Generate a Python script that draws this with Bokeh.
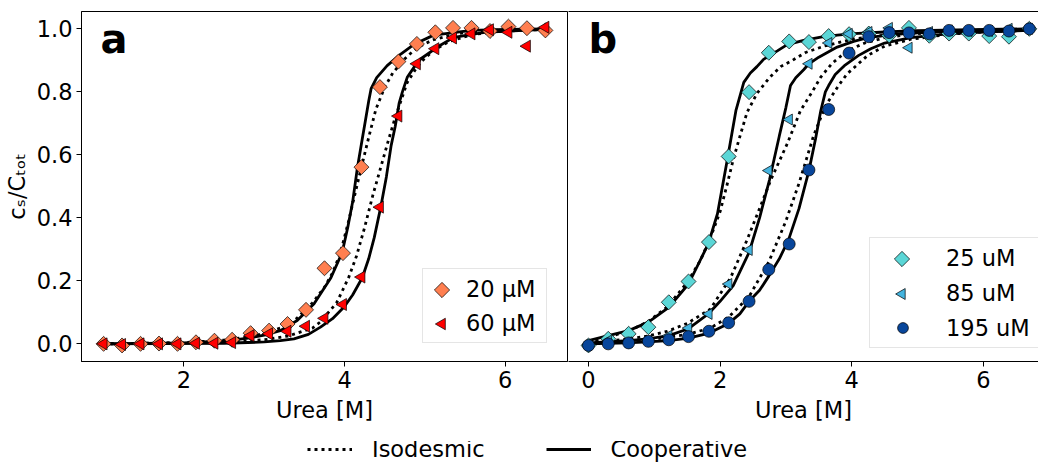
import math

from bokeh.embed import file_html
from bokeh.layouts import column, row
from bokeh.models import (ColumnDataSource, FixedTicker, Label, Legend, LegendItem,
                          LinearAxis, NumeralTickFormatter, Range1d)
from bokeh.plotting import figure
from bokeh.resources import INLINE

FONT = "DejaVu Sans"
FS = "22.5px"
NAN = float("nan")

# ---------------------------------------------------------------- panel a data
urea_a = [1.00, 1.23, 1.46, 1.69, 1.92, 2.15, 2.38, 2.60, 2.83, 3.06, 3.29, 3.52, 3.75,
          3.98, 4.21, 4.44, 4.67, 4.90, 5.13, 5.35, 5.58, 5.81, 6.04, 6.27, 6.50]
frac_20uM = [0.000, -0.005, 0.000, 0.001, 0.000, 0.005, 0.010, 0.013, 0.034, 0.042, 0.063,
             0.108, 0.240, 0.288, 0.561, 0.815, 0.896, 0.952, 0.989, 1.003, 1.003, 0.993,
             1.007, 1.002, 0.995]
frac_60uM = [0.000, -0.002, 0.000, 0.000, 0.000, 0.002, 0.002, 0.004, 0.026, 0.032, 0.040,
             0.056, 0.081, 0.125, 0.212, 0.434, 0.723, 0.889, 0.937, 0.971, 0.984, 0.997,
             0.989, 0.945, 1.005]

# fitted curves, panel a
coop_20_x = [1.0, 2.0, 2.5, 2.8, 3.0, 3.2, 3.41, 3.62, 3.83, 3.97, 4.04, 4.10, 4.16, 4.22,
             4.26, 4.30, 4.33, 4.40, 4.53, 4.70, 4.86, 5.11, 5.58, 6.0, 6.5]
coop_20_y = [0.0, 0.003, 0.009, 0.018, 0.028, 0.042, 0.074, 0.127, 0.21, 0.29, 0.37, 0.45,
             0.56, 0.65, 0.71, 0.77, 0.81, 0.845, 0.883, 0.92, 0.95, 0.98, 0.995, 0.998, 1.0]
iso_20_x = [1.0, 2.0, 2.5, 2.8, 3.0, 3.2, 3.4, 3.6, 3.75, 3.85, 3.95, 4.05, 4.18, 4.30, 4.39,
            4.50, 4.60, 4.75, 4.90, 5.10, 5.40, 5.80, 6.5]
iso_20_y = [0.0, 0.004, 0.012, 0.022, 0.033, 0.05, 0.08, 0.13, 0.18, 0.225, 0.29, 0.39, 0.53,
            0.655, 0.745, 0.815, 0.86, 0.905, 0.94, 0.965, 0.985, 0.995, 1.0]
coop_60_x = [1.0, 2.5, 3.0, 3.2, 3.37, 3.55, 3.7, 3.85, 3.99, 4.1, 4.22, 4.3, 4.37, 4.45,
             4.52, 4.58, 4.63, 4.68, 4.72, 4.78, 4.87, 4.95, 5.16, 5.36, 5.78, 6.5]
coop_60_y = [0.0, 0.002, 0.006, 0.01, 0.016, 0.03, 0.053, 0.08, 0.116, 0.155, 0.21, 0.27,
             0.338, 0.434, 0.53, 0.63, 0.69, 0.765, 0.80, 0.846, 0.88, 0.905, 0.943, 0.973,
             0.99, 0.998]
iso_60_x = [1.0, 2.5, 3.0, 3.3, 3.6, 3.7, 3.9, 4.05, 4.15, 4.25, 4.35, 4.45, 4.55, 4.62,
            4.70, 4.78, 4.88, 4.95, 5.1, 5.3, 5.6, 6.0, 6.5]
iso_60_y = [0.0, 0.005, 0.013, 0.025, 0.05, 0.07, 0.13, 0.21, 0.28, 0.37, 0.47, 0.56, 0.65,
            0.71, 0.77, 0.83, 0.87, 0.895, 0.93, 0.96, 0.982, 0.993, 0.998]

# ---------------------------------------------------------------- panel b data
urea_b = [0.00, 0.30, 0.61, 0.91, 1.22, 1.52, 1.83, 2.13, 2.44, 2.74, 3.05, 3.35, 3.65,
          3.96, 4.26, 4.57, 4.87, 5.18, 5.48, 5.78, 6.09, 6.39, 6.70]
frac_25uM = [-0.005, 0.016, 0.032, 0.053, 0.132, 0.198, 0.323, 0.595, 0.799, 0.924, 0.960,
             0.958, 0.977, 0.983, 0.985, 0.979, 1.003, 0.978, 0.985, 0.985, 0.977, 0.975,
             1.000]
frac_85uM = [-0.003, 0.010, 0.005, 0.010, 0.026, 0.050, 0.095, 0.190, 0.298, 0.550, 0.712,
             0.889, 0.955, 0.984, 0.990, 1.003, 0.940, 0.990, 0.995, 0.993, 0.993, 1.000,
             1.000]
frac_195uM = [-0.005, 0.000, 0.003, 0.008, 0.013, 0.023, 0.040, 0.067, 0.135, 0.236, 0.317,
              0.552, 0.744, 0.923, 0.975, 0.988, 0.987, 0.984, 0.995, 0.995, 0.995, 0.993,
              1.000]

# fitted curves, panel b
coop_25_x = [0.0, 0.30, 0.61, 0.91, 1.22, 1.52, 1.82, 1.96, 2.11, 2.24, 2.36, 2.46, 2.56,
             2.66, 2.87, 3.02, 3.27, 3.53, 3.78, 4.03, 4.5, 5.0, 5.8, 6.7]
coop_25_y = [0.01, 0.026, 0.042, 0.069, 0.116, 0.19, 0.317, 0.413, 0.585, 0.74, 0.83, 0.86,
             0.88, 0.903, 0.93, 0.95, 0.963, 0.974, 0.98, 0.985, 0.99, 0.994, 0.997, 1.0]
iso_25_x = [0.0, 0.3, 0.6, 0.9, 1.2, 1.5, 1.7, 1.85, 2.0, 2.1, 2.2, 2.31, 2.41, 2.56, 2.75,
            2.92, 3.1, 3.3, 3.58, 4.03, 4.5, 5.0, 5.5, 6.0, 6.7]
iso_25_y = [0.008, 0.022, 0.04, 0.07, 0.118, 0.195, 0.265, 0.335, 0.42, 0.5, 0.585, 0.665,
            0.735, 0.795, 0.845, 0.88, 0.9, 0.925, 0.945, 0.968, 0.98, 0.988, 0.993, 0.996,
            0.998]
coop_85_x = [0.0, 0.6, 0.9, 1.22, 1.52, 1.82, 2.0, 2.2, 2.44, 2.6, 2.75, 2.9, 3.0, 3.07,
             3.15, 3.27, 3.35, 3.5, 3.78, 4.03, 4.29, 4.79, 5.5, 6.7]
coop_85_y = [0.003, 0.01, 0.016, 0.026, 0.048, 0.095, 0.135, 0.185, 0.29, 0.4, 0.52, 0.66,
             0.75, 0.82, 0.845, 0.87, 0.889, 0.91, 0.942, 0.96, 0.974, 0.985, 0.993, 0.999]
iso_85_x = [0.0, 0.6, 0.9, 1.2, 1.5, 1.85, 2.16, 2.41, 2.61, 2.77, 3.02, 3.22, 3.4, 3.53,
            3.7, 3.93, 4.2, 4.5, 5.0, 5.5, 6.7]
iso_85_y = [0.005, 0.015, 0.025, 0.04, 0.065, 0.11, 0.21, 0.33, 0.435, 0.52, 0.635, 0.74,
            0.8, 0.847, 0.89, 0.93, 0.955, 0.972, 0.985, 0.992, 0.998]
coop_195_x = [0.0, 0.6, 0.9, 1.22, 1.52, 1.82, 2.13, 2.3, 2.44, 2.6, 2.74, 2.9, 3.04, 3.2,
              3.35, 3.45, 3.53, 3.6, 3.65, 3.75, 3.9, 4.1, 4.29, 4.5, 4.9, 5.5, 6.0, 6.7]
coop_195_y = [0.0, 0.003, 0.006, 0.01, 0.018, 0.033, 0.065, 0.095, 0.135, 0.17, 0.215, 0.27,
              0.33, 0.43, 0.55, 0.65, 0.74, 0.8, 0.82, 0.855, 0.885, 0.915, 0.937, 0.955,
              0.972, 0.985, 0.99, 0.995]
iso_195_x = [0.0, 0.9, 1.5, 1.85, 2.13, 2.44, 2.74, 3.0, 3.2, 3.42, 3.6, 3.8, 3.93, 4.24,
             4.5, 4.9, 5.5, 6.0, 6.7]
iso_195_y = [0.003, 0.012, 0.03, 0.05, 0.085, 0.15, 0.26, 0.39, 0.51, 0.66, 0.755, 0.82,
             0.857, 0.915, 0.945, 0.967, 0.983, 0.99, 0.995]

y_ticks = [0.0, 0.2, 0.4, 0.6, 0.8, 1.0]
x_ticks_a = [2, 4, 6]
x_ticks_b = [0, 2, 4, 6]

C20, C60 = "#FF7F50", "#FF0000"
C25, C85, C195 = "#5BD6D6", "#44B4DF", "#08469B"

LW = 2.8
DOT = "3 4"
Y_RANGE = (-0.056, 1.055)
FRAME_H = 350
PANEL_H = 441          # 11 top border + 350 frame + 80 bottom border
DIAMOND = dict(marker="square", angle=math.pi / 4, line_color="black", line_width=0.7)
LEFT_TRI = dict(marker="triangle", angle=math.pi / 2, line_color="black", line_width=0.7)
DOTS = dict(marker="circle", line_color="black", line_width=0.7)


def base_fig(width, x_range, left, right):
    p = figure(width=width, height=PANEL_H, x_range=Range1d(*x_range),
               y_range=Range1d(*Y_RANGE), output_backend="svg", toolbar_location=None,
               min_border_left=left, min_border_right=right,
               min_border_top=11, min_border_bottom=80)
    p.grid.visible = False
    p.background_fill_color = "white"
    p.border_fill_color = "white"
    for ax in p.xaxis:
        ax.major_label_text_font = FONT
        ax.major_label_text_font_size = FS
        ax.major_label_text_color = "black"
        ax.major_tick_out = 5
        ax.major_tick_in = 0
        ax.minor_tick_out = 0
        ax.minor_tick_in = 0
        ax.major_label_standoff = 4
        ax.axis_line_color = "black"
        ax.major_tick_line_color = "black"
        ax.axis_label = "Urea [M]"
        ax.axis_label_text_font = FONT
        ax.axis_label_text_font_size = FS
        ax.axis_label_text_font_style = "normal"
        ax.axis_label_text_color = "black"
        ax.axis_label_standoff = 6
    return p


def add_curves(p, pairs):
    for (xs, ys), dash in pairs:
        p.line(xs, ys, line_color="black", line_width=LW,
               line_dash=dash if dash else "solid", line_cap="butt")


def add_text(p, text, x, y, size=FS, style="normal", align="left"):
    p.add_layout(Label(x=x, y=y, x_units="screen", y_units="screen", text=text,
                       text_font=FONT, text_font_size=size, text_font_style=style,
                       text_align=align, text_baseline="alphabetic", text_color="black"))


def boxed_legend(p, labels, glyph_renderers, loc, glyph_w, standoff, label_w, spacing):
    return Legend(items=[LegendItem(label=t, renderers=[r])
                         for t, r in zip(labels, glyph_renderers)],
                  location=loc, padding=6, spacing=spacing, margin=0,
                  glyph_width=glyph_w, glyph_height=27, label_height=27,
                  label_standoff=standoff, label_width=label_w,
                  label_text_font=FONT, label_text_font_size=FS, label_text_color="black",
                  border_line_color="#cccccc", border_line_width=1,
                  background_fill_alpha=0)


def key_positions(p, frame_w, loc, glyph_w, spacing, n):
    """Centres (in data units) of the swatch slots of a boxed legend, top row first."""
    xr, yr = p.x_range, p.y_range
    sx = loc[0] + 6 + glyph_w / 2
    xs, ys = [], []
    for i in range(n):
        sy = loc[1] + 6 + (n - 1 - i) * (27 + spacing) + 27 / 2
        xs.append(xr.start + sx * (xr.end - xr.start) / frame_w)
        ys.append(yr.start + sy * (yr.end - yr.start) / FRAME_H)
    return xs, ys


# ---------------------------------------------------------------- panel a
pa = base_fig(568, (0.725, 6.775), 81, 1)
pa.outline_line_color = "black"
pa.outline_line_width = 1
pa.outline_line_alpha = 1
pa.xaxis.ticker = FixedTicker(ticks=x_ticks_a)
ya = pa.yaxis[0]
ya.ticker = FixedTicker(ticks=y_ticks)
ya.formatter = NumeralTickFormatter(format="0.0")
ya.major_label_text_font = FONT
ya.major_label_text_font_size = FS
ya.major_label_text_color = "black"
ya.major_tick_out = 5
ya.major_tick_in = 0
ya.minor_tick_out = 0
ya.minor_tick_in = 0
ya.major_label_standoff = 4
ya.axis_line_color = "black"
ya.axis_label = "cₛ/Cₜₒₜ"
ya.axis_label_text_font = FONT
ya.axis_label_text_font_size = FS
ya.axis_label_text_font_style = "normal"
ya.axis_label_text_color = "black"
ya.axis_label_standoff = 4

add_curves(pa, [((iso_20_x, iso_20_y), DOT), ((iso_60_x, iso_60_y), DOT),
                ((coop_20_x, coop_20_y), None), ((coop_60_x, coop_60_y), None)])

pa.scatter(urea_a, frac_20uM, size=10.6, fill_color=C20, **DIAMOND)
pa.scatter(urea_a, frac_60uM, size=12, fill_color=C60, **LEFT_TRI)

# legend: text and box from Legend, rotated swatches drawn into its empty slots
LOC_A = (341, 18)
slot_a = [pa.scatter([NAN], [NAN], marker="circle", fill_alpha=0, line_alpha=0)
          for _ in range(2)]
pa.add_layout(boxed_legend(pa, ["20 µM", "60 µM"], slot_a, LOC_A, 27, 10, 74, 7))
kx, ky = key_positions(pa, 486, LOC_A, 27, 7, 2)
pa.scatter(kx[:1], ky[:1], size=10.8, fill_color=C20, level="overlay", **DIAMOND)
pa.scatter(kx[1:], ky[1:], size=11.5, fill_color=C60, level="overlay", **LEFT_TRI)

add_text(pa, "a", 19, 323, size="40px", style="bold")

# ---------------------------------------------------------------- panel b
pb = base_fig(470, (-0.304, 6.839), 0, 0)
pb.outline_line_color = None
pb.yaxis.visible = False
pb.xaxis.ticker = FixedTicker(ticks=x_ticks_b)
top = LinearAxis(ticker=FixedTicker(ticks=[]), major_tick_out=0, major_tick_in=0,
                 minor_tick_out=0, minor_tick_in=0, major_label_text_font_size="0px",
                 axis_line_color="black")
pb.add_layout(top, "above")

add_curves(pb, [((iso_25_x, iso_25_y), DOT), ((iso_85_x, iso_85_y), DOT),
                ((iso_195_x, iso_195_y), DOT),
                ((coop_25_x, coop_25_y), None), ((coop_85_x, coop_85_y), None),
                ((coop_195_x, coop_195_y), None)])

pb.scatter(urea_b, frac_25uM, size=10.6, fill_color=C25, **DIAMOND)
pb.scatter(urea_b, frac_85uM, size=11, fill_color=C85, **LEFT_TRI)
r195 = pb.scatter(urea_b, frac_195uM, size=12, fill_color=C195, **DOTS)

LOC_B = (301, 13)
slot_b = [pb.scatter([NAN], [NAN], marker="circle", fill_alpha=0, line_alpha=0)
          for _ in range(2)]
pb.add_layout(boxed_legend(pb, ["25 uM", "85 uM", "195 uM"], slot_b + [r195],
                           LOC_B, 53, 17, 110, 8))
kx, ky = key_positions(pb, 470, LOC_B, 53, 8, 3)
pb.scatter(kx[:1], ky[:1], size=10.8, fill_color=C25, level="overlay", **DIAMOND)
pb.scatter(kx[1:2], ky[1:2], size=11, fill_color=C85, level="overlay", **LEFT_TRI)

add_text(pb, "b", 20, 323, size="40px", style="bold")

# ---------------------------------------------------------------- shared line-style key
pk = figure(width=1038, height=463 - PANEL_H, output_backend="svg", toolbar_location=None,
            min_border=0, x_axis_location=None, y_axis_location=None,
            x_range=Range1d(0, 1), y_range=Range1d(0, 1))
pk.outline_line_color = None
pk.grid.visible = False
blank = ColumnDataSource(dict(x=[NAN], y=[NAN]))
k_iso = pk.line("x", "y", source=blank, line_color="black", line_width=LW, line_dash=DOT)
k_coop = pk.line("x", "y", source=blank, line_color="black", line_width=LW)
key = Legend(items=[LegendItem(label="Isodesmic", renderers=[k_iso]),
                    LegendItem(label="Cooperative", renderers=[k_coop])],
             orientation="horizontal", location=(307, 1), padding=0, margin=0,
             spacing=61, glyph_width=45, glyph_height=20, label_height=20,
             label_standoff=20, label_text_font=FONT, label_text_font_size=FS,
             label_text_color="black", border_line_color=None, background_fill_alpha=0)
pk.add_layout(key)

layout = column(row(pa, pb), pk)

with open("out.html", "w") as f:
    f.write(file_html(layout, INLINE))
